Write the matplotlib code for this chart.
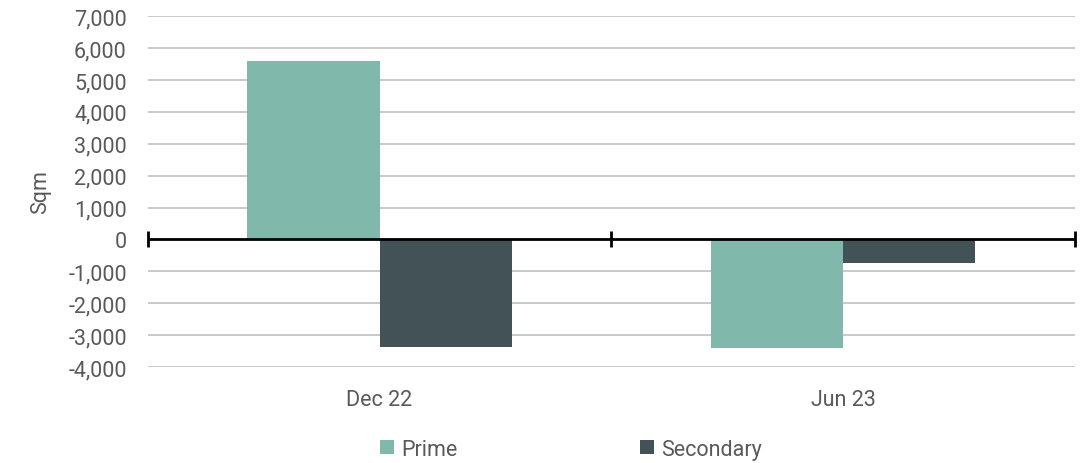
# Net absorption by grade, Dec 22 vs Jun 23
import matplotlib.pyplot as plt
import numpy as np

periods = ["Dec 22", "Jun 23"]
prime = [5580, -3420]
secondary = [-3390, -730]

plt.rcParams['font.family'] = ['Roboto', 'DejaVu Sans']
txt = '#595959'
fs = 15.5

fig = plt.figure(figsize=(10.86, 4.64), dpi=100)
ax = fig.add_axes([0.136, 0.207, 0.854, 0.756])

x = np.arange(len(periods))
w = 0.285
ax.bar(x - w/2, prime, w, color='#80b9ab', label='Prime', zorder=2)
ax.bar(x + w/2, secondary, w, color='#435257', label='Secondary', zorder=2)

ax.set_xlim(-0.5, 1.5)
ax.set_ylim(-4000, 7000)
ax.set_yticks(np.arange(-4000, 7001, 1000))
ax.yaxis.set_major_formatter(plt.FuncFormatter(lambda v, p: f"{int(v):,}"))
ax.grid(axis='y', color='#c2c6c8', linewidth=1.3, zorder=0)

# zero line with category separators
ax.axhline(0, color='black', linewidth=2, zorder=3)
ax.plot([-0.5, 0.5, 1.5], [0, 0, 0], linestyle='none', marker='|',
        markersize=11, markeredgewidth=2, color='black', zorder=3,
        clip_on=False)

ax.set_xticks(x)
ax.set_xticklabels(periods)
ax.tick_params(axis='x', length=0, pad=16, labelsize=fs, labelcolor=txt)
ax.tick_params(axis='y', length=0, pad=15, labelsize=fs, labelcolor=txt)
for s in ax.spines.values():
    s.set_visible(False)

ax.set_ylabel("Sqm", fontsize=fs, color=txt, labelpad=12)

fig.legend(loc='lower center', bbox_to_anchor=(0.526, -0.035), ncol=2,
           frameon=False, fontsize=fs, labelcolor=txt, handlelength=0.65,
           handleheight=0.65, handletextpad=0.35, columnspacing=8.46)

plt.savefig("out.png", dpi=100)
